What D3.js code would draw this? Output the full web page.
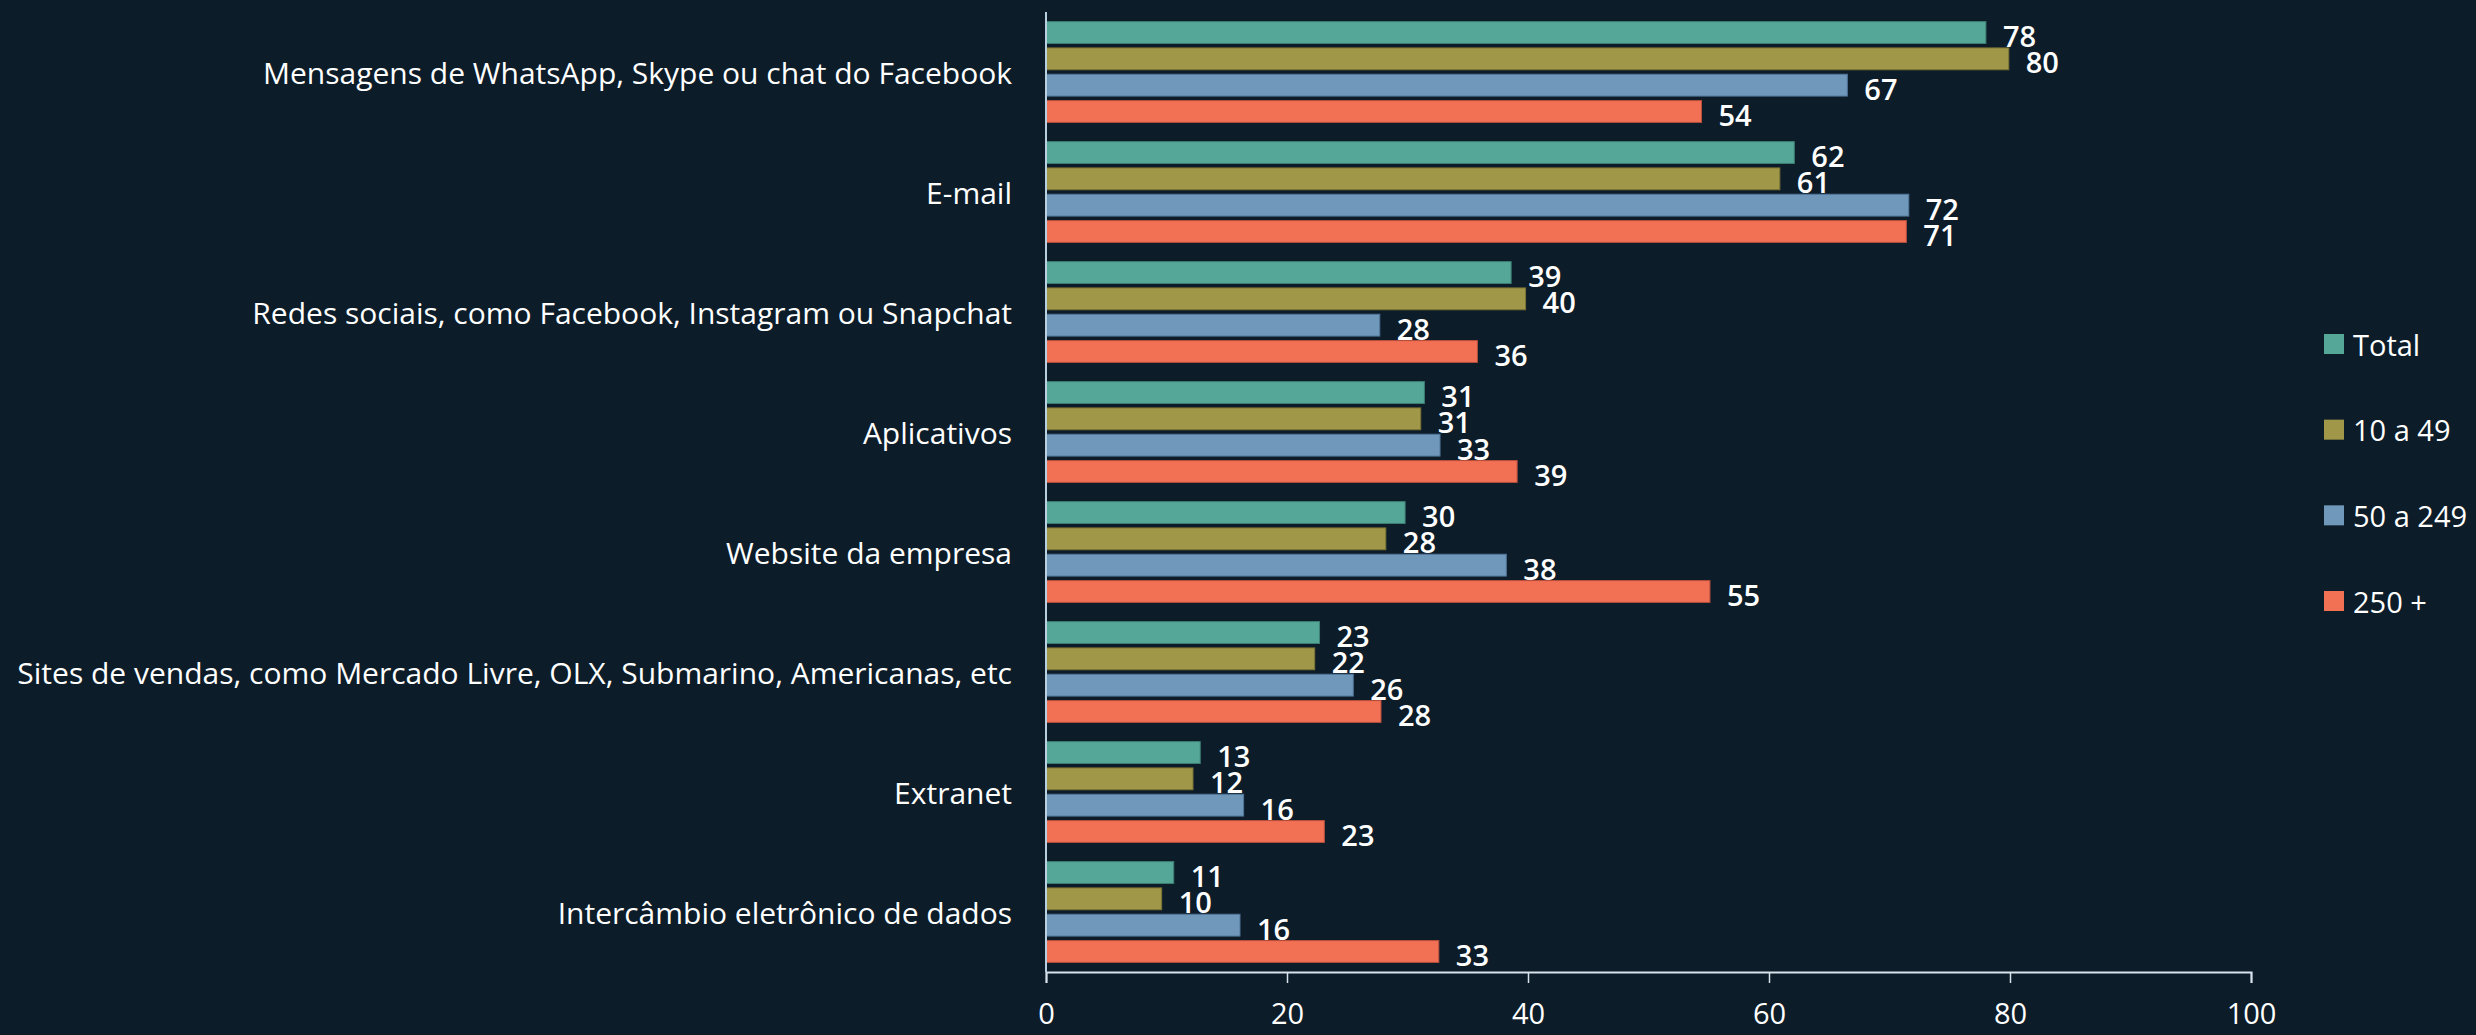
<!DOCTYPE html>
<html>
<head>
<meta charset="utf-8">
<script src="https://cdn.jsdelivr.net/npm/d3@7"></script>
<style>
  html, body { margin: 0; padding: 0; background: #0C1C29; }
  svg { display: block; }
  text { font-family: "Open Sans", "Noto Sans", sans-serif; fill: #FFFFFF; }
</style>
</head>
<body>
<svg id="chart" width="2476" height="1035"></svg>
<script>
const categories = [
  "Mensagens de WhatsApp, Skype ou chat do Facebook",
  "E-mail",
  "Redes sociais, como Facebook, Instagram ou Snapchat",
  "Aplicativos",
  "Website da empresa",
  "Sites de vendas, como Mercado Livre, OLX, Submarino, Americanas, etc",
  "Extranet",
  "Intercâmbio eletrônico de dados"
];
const seriesNames = ["Total", "10 a 49", "50 a 249", "250 +"];
const totalValues   = [78.0, 62.1, 38.6, 31.4, 29.8, 22.7, 12.8, 10.6];
const small10to49   = [79.9, 60.9, 39.8, 31.1, 28.2, 22.3, 12.2, 9.6];
const medium50to249 = [66.5, 71.6, 27.7, 32.7, 38.2, 25.5, 16.4, 16.1];
const large250plus  = [54.4, 71.4, 35.8, 39.1, 55.1, 27.8, 23.1, 32.6];
const xTicks = [0, 20, 40, 60, 80, 100];

const seriesValues = [totalValues, small10to49, medium50to249, large250plus];
const colors = ["#55A898", "#A09848", "#7098BA", "#F27054"];
const strokes = ["#3E7F73", "#7A7434", "#52769A", "#B8503C"];

const svg = d3.select("#chart");
const plotLeft = 1046, plotRight = 2251, plotTop = 12, plotBottom = 972;

const x = d3.scaleLinear().domain([0, 100]).range([plotLeft, plotRight]);
const y = d3.scaleBand().domain(categories).range([plotTop, plotBottom])
  .paddingInner(0.16).paddingOuter(0.08);
const ySub = d3.scaleBand().domain(seriesNames).range([0, y.bandwidth()])
  .paddingInner(0.17).paddingOuter(0);

const rows = [];
categories.forEach((c, i) => {
  seriesNames.forEach((s, j) => {
    rows.push({ cat: c, series: s, si: j, value: seriesValues[j][i] });
  });
});

// bars
svg.append("g").selectAll("rect").data(rows).enter().append("rect")
  .attr("x", x(0))
  .attr("y", d => y(d.cat) + ySub(d.series))
  .attr("width", d => x(d.value) - x(0))
  .attr("height", ySub.bandwidth())
  .attr("fill", d => colors[d.si])
  .attr("stroke", d => strokes[d.si])
  .attr("stroke-width", 1);

// value labels
svg.append("g").selectAll("text").data(rows).enter().append("text")
  .attr("x", d => x(d.value) + 17)
  .attr("y", d => y(d.cat) + ySub(d.series) + ySub.bandwidth() / 2 + 3)
  .attr("dominant-baseline", "central")
  .attr("font-size", 29)
  .attr("font-weight", 600)
  .text(d => Math.round(d.value));

// category labels
svg.append("g").selectAll("text").data(categories).enter().append("text")
  .attr("x", 1012)
  .attr("y", d => y(d) + y.bandwidth() / 2)
  .attr("text-anchor", "end")
  .attr("dominant-baseline", "central")
  .attr("font-size", 30)
  .text(d => d);

// x axis
const xAxis = svg.append("g")
  .attr("transform", `translate(0,${plotBottom})`)
  .call(d3.axisBottom(x).tickValues(xTicks).tickSize(11).tickPadding(20).tickFormat(d3.format("d")));
xAxis.select(".domain").attr("stroke", "#D8E2EC").attr("stroke-width", 2);
xAxis.selectAll(".tick line").attr("stroke", "#D8E2EC").attr("stroke-width", 1.5);
xAxis.selectAll(".tick text").attr("font-size", 29).attr("fill", "#FFFFFF")
  .attr("font-family", "\"Open Sans\", sans-serif");

// y axis line
svg.append("line")
  .attr("x1", plotLeft).attr("x2", plotLeft)
  .attr("y1", plotTop).attr("y2", plotBottom)
  .attr("stroke", "#B8D0E0").attr("stroke-width", 2);

// legend
const legend = svg.append("g");
const legY = d3.scalePoint().domain(seriesNames).range([344, 601]);
seriesNames.forEach((s, j) => {
  legend.append("rect")
    .attr("x", 2324).attr("y", legY(s) - 10)
    .attr("width", 20).attr("height", 20)
    .attr("fill", colors[j]);
  legend.append("text")
    .attr("x", 2353).attr("y", legY(s))
    .attr("dominant-baseline", "central")
    .attr("font-size", 29)
    .text(s);
});
</script>
</body>
</html>
